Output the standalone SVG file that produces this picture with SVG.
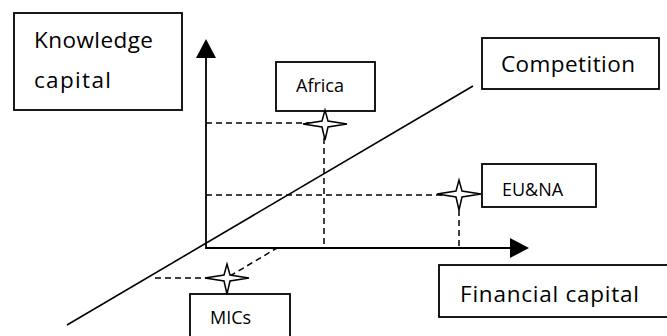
<svg xmlns="http://www.w3.org/2000/svg" width="667" height="336" viewBox="0 0 667 336">
<style>
.box{fill:#fff;stroke:#000;stroke-width:1.8}
.t{font-family:"Open Sans","Liberation Sans",sans-serif;fill:#000}
.big{font-size:22.5px}
.sm{font-size:18px}
.ax{stroke:#000;stroke-width:1.8;fill:none}
.ds{stroke:#000;stroke-width:1.5;stroke-dasharray:6 4;fill:none}
.ln{stroke:#000;stroke-width:1.6;fill:none}
.star{fill:#fff;stroke:#000;stroke-width:1.5}
</style>
<defs>
<path id="st" d="M-22,0 L-3,-3 L0,-14 L3,-3 L22,0 L3,3 L0,16 L-3,3 Z"/>
</defs>
<g id="connectors">
<line class="ln" x1="473" y1="86" x2="67" y2="325"/>
<line class="ds" x1="206" y1="123" x2="318" y2="123"/>
<line class="ds" x1="324" y1="128" x2="324" y2="248"/>
<line class="ds" x1="206" y1="195" x2="452" y2="195"/>
<line class="ds" x1="459" y1="200" x2="459" y2="248"/>
<line class="ds" x1="155" y1="278" x2="222" y2="278"/>
<line class="ds" x1="230" y1="276" x2="277" y2="248"/>
<path class="ax" d="M206,58 L206,248 L510,248"/>
<path d="M196,58 L206,39 L216,58 Z" fill="#000"/>
<path d="M510,238 L529,248 L510,258 Z" fill="#000"/>
</g>
<g id="knowledge">
<rect class="box" x="14" y="13" width="168" height="97"/>
<text class="t big" x="34" y="48" textLength="119">Knowledge</text>
<text class="t big" x="34" y="88" textLength="77">capital</text>
</g>
<g id="africa">
<rect class="box" x="276" y="62" width="99" height="49"/>
<text class="t sm" x="296" y="92">Africa</text>
<use href="#st" class="star" transform="translate(325,124)"/>
</g>
<g id="competition">
<rect class="box" x="482" y="38" width="177" height="51"/>
<text class="t big" x="501" y="72" textLength="134">Competition</text>
</g>
<g id="euna">
<rect class="box" x="482" y="164" width="114" height="43"/>
<text class="t sm" x="502" y="196">EU&amp;NA</text>
<use href="#st" class="star" transform="translate(459,194)"/>
</g>
<g id="financial">
<rect class="box" x="439" y="265" width="240" height="52"/>
<text class="t big" x="460" y="302" textLength="179">Financial capital</text>
</g>
<g id="mics">
<rect class="box" x="190" y="294" width="100" height="50"/>
<text class="t sm" x="210" y="324">MICs</text>
<use href="#st" class="star" transform="translate(227,278)"/>
</g>
</svg>
